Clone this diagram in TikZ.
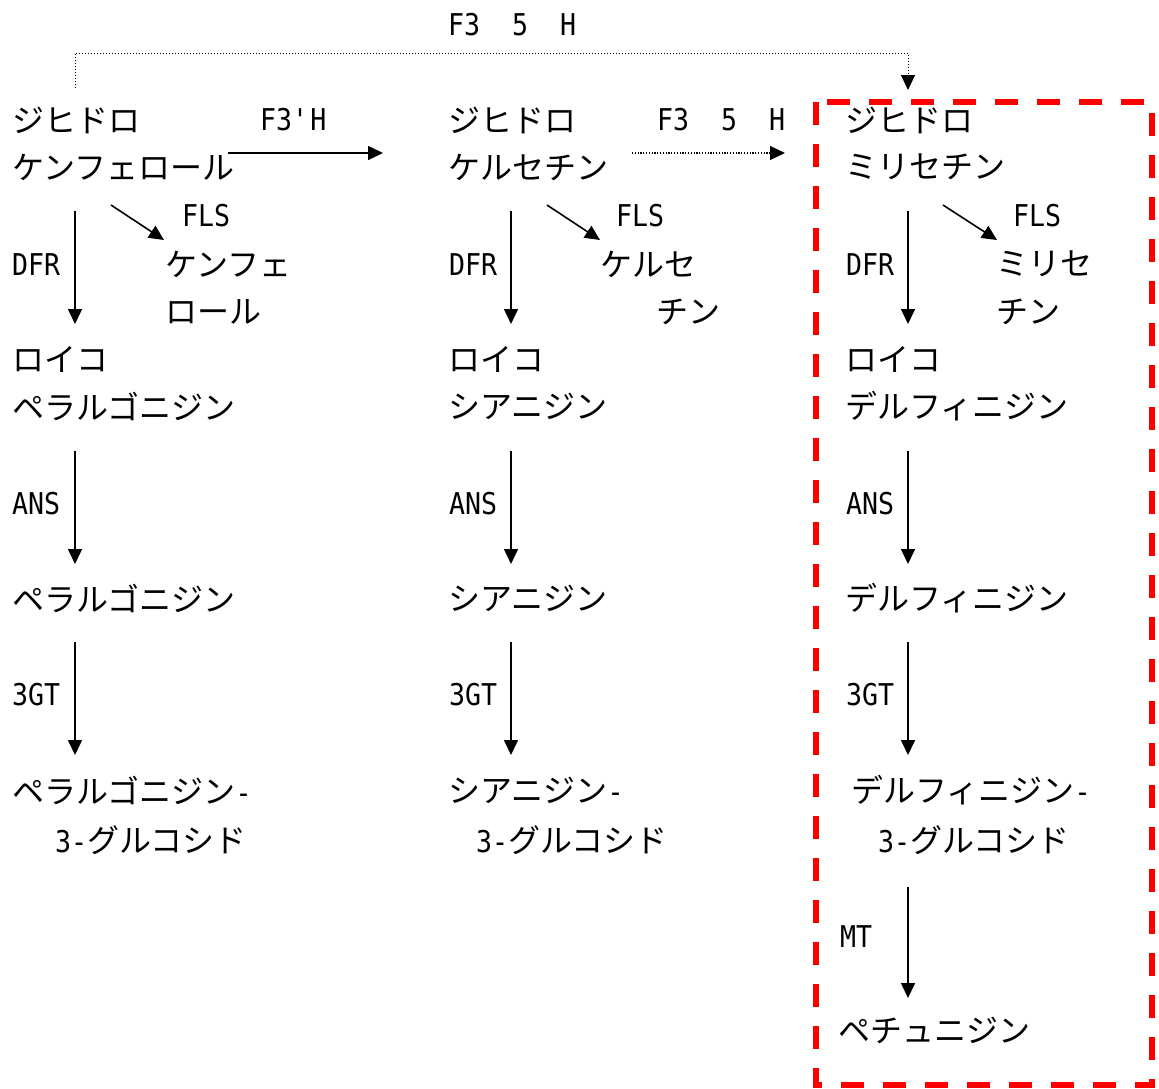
\documentclass[tikz,border=0pt]{standalone}
\usepackage{fontspec}
\usetikzlibrary{arrows.meta}
\newfontfamily\jpfont{Noto Sans CJK JP}
\newfontfamily\lblfont[FakeStretch=0.886]{DejaVu Sans Mono}
\newcommand{\apos}{\XeTeXglyph\XeTeXcharglyph"0027\relax}
\begin{document}
\begin{tikzpicture}[x=1pt,y=-1pt,
  jt/.style={anchor=west,inner sep=0pt,font=\jpfont\fontsize{32}{38}\selectfont},
  lb/.style={anchor=west,inner sep=0pt,font=\lblfont\fontsize{30}{36}\selectfont},
  arr/.style={line width=1.6pt,-{Triangle[length=15pt,width=14pt]}},
  darr/.style={line width=1.2pt,dash pattern=on 1.2pt off 1.6pt,-{Triangle[length=15pt,width=14pt]}},
  tarr/.style={line width=1pt,dash pattern=on 1pt off 2pt,-{Triangle[length=15pt,width=14pt]}},
  redbox/.style={draw=red,line width=5.5pt,dash pattern=on 23pt off 19pt},
]
\useasboundingbox[fill=white] (0,0) rectangle (1159,1088);

% ---------- red dashed box ----------
\draw[redbox] (816,102) rectangle (1152,1085);

% ---------- column 1 ----------
\node[jt] (a1) at (12,120) {ジヒドロ};
\node[jt] (b1) at (12,167) {ケンフェロール};
\node[jt] (f1a) at (165,264) {ケンフェ};
\node[jt] (f1b) at (165,312) {ロール};
\node[jt] (c1) at (12,359) {ロイコ};
\node[jt] (d1) at (12,406) {ペラルゴニジン};
\node[jt] (e1) at (12,598) {ペラルゴニジン};
\node[jt] (g1) at (12,790) {ペラルゴニジン{\lblfont\fontsize{30}{36}\selectfont -}};
\node[jt] (h1) at (55,840) {{\lblfont\fontsize{30}{36}\selectfont 3-}グルコシド};

\node[lb] (lfls1) at (182,216) {FLS};
\node[lb] (ldfr1) at (12,265) {DFR};
\node[lb] (lans1) at (12,504) {ANS};
\node[lb] (l3gt1) at (12,695) {3GT};

% ---------- column 2 ----------
\node[jt] (a2) at (448,120) {ジヒドロ};
\node[jt] (b2) at (448,167) {ケルセチン};
\node[jt] (f2a) at (600,264) {ケルセ};
\node[jt] (f2b) at (656,312) {チン};
\node[jt] (c2) at (448,359) {ロイコ};
\node[jt] (d2) at (448,406) {シアニジン};
\node[jt] (e2) at (448,598) {シアニジン};
\node[jt] (g2) at (448,790) {シアニジン{\lblfont\fontsize{30}{36}\selectfont -}};
\node[jt] (h2) at (476,840) {{\lblfont\fontsize{30}{36}\selectfont 3-}グルコシド};

\node[lb] (lfls2) at (616,216) {FLS};
\node[lb] (ldfr2) at (449,265) {DFR};
\node[lb] (lans2) at (449,504) {ANS};
\node[lb] (l3gt2) at (449,695) {3GT};

% ---------- column 3 ----------
\node[jt] (a3) at (845,120) {ジヒドロ};
\node[jt] (b3) at (845,167) {ミリセチン};
\node[jt] (f3a) at (996,264) {ミリセ};
\node[jt] (f3b) at (996,312) {チン};
\node[jt] (c3) at (845,359) {ロイコ};
\node[jt] (d3) at (845,406) {デルフィニジン};
\node[jt] (e3) at (845,598) {デルフィニジン};
\node[jt] (g3) at (851,790) {デルフィニジン{\lblfont\fontsize{30}{36}\selectfont -}};
\node[jt] (h3) at (878,840) {{\lblfont\fontsize{30}{36}\selectfont 3-}グルコシド};
\node[jt] (p3) at (838,1030) {ペチュニジン};

\node[lb] (lfls3) at (1013,216) {FLS};
\node[lb] (ldfr3) at (846,265) {DFR};
\node[lb] (lans3) at (846,504) {ANS};
\node[lb] (l3gt3) at (846,695) {3GT};
\node[lb] (lmt3) at (840,937) {MT};

% ---------- horizontal labels ----------
\node[lb] (lf3h) at (260,120) {F3\apos H};
\node[lb] (lf35h) at (657,120) {F3~~5~~H};
\node[lb] (ltop) at (448,25) {F3~~5~~H};

% ---------- connector end points ----------
\coordinate (h1s) at (228,153); \coordinate (h1e) at (383,153);
\coordinate (h2s) at (632,153); \coordinate (h2e) at (785,153);
\coordinate (t0) at (75,88); \coordinate (t1) at (75,53);
\coordinate (t2) at (908,53); \coordinate (t3) at (908,90);

\foreach \x/\c in {75/1,511/2,908/3}{
  \coordinate (v1s\c) at (\x,211); \coordinate (v1e\c) at (\x,324);
  \coordinate (v2s\c) at (\x,451); \coordinate (v2e\c) at (\x,564);
  \coordinate (v3s\c) at (\x,642); \coordinate (v3e\c) at (\x,755);
}
\coordinate (v4s3) at (908,887); \coordinate (v4e3) at (908,998);
\coordinate (s1s) at (111,205); \coordinate (s1e) at (164,240);
\coordinate (s2s) at (547,205); \coordinate (s2e) at (600,240);
\coordinate (s3s) at (943,205); \coordinate (s3e) at (997,240);

% ---------- connectors ----------
\draw[arr] (h1s) -- (h1e);
\draw[darr] (h2s) -- (h2e);
\draw[tarr] (t0) -- (t1) -- (t2) -- (t3);
\foreach \c in {1,2,3}{
  \draw[arr] (v1s\c) -- (v1e\c);
  \draw[arr] (v2s\c) -- (v2e\c);
  \draw[arr] (v3s\c) -- (v3e\c);
  \draw[arr] (s\c s) -- (s\c e);
}
\draw[arr] (v4s3) -- (v4e3);
\end{tikzpicture}
\end{document}
